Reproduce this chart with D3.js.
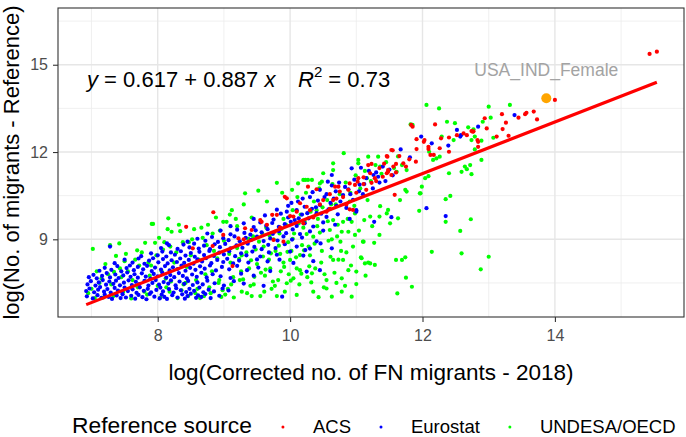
<!DOCTYPE html>
<html>
<head>
<meta charset="utf-8">
<title>Corrected vs reference migrant counts</title>
<style>
  body { margin: 0; background: #fff; }
  text { font-family: "Liberation Sans", Arial, sans-serif; }
</style>
</head>
<body>
<script src="https://d3js.org/d3.v7.min.js"></script>
<script>
// values, [log corrected, log reference]
var acsPoints = [
  [8.43,9.43],[8.53,8.69],[8.83,8.77],[8.84,9.93],[8.99,9.15],[9.13,8.08],[9.22,9.03],[9.3,9.0],[9.32,9.38],[9.42,9.32],
  [9.55,9.66],[9.57,9.6],[9.65,9.5],[9.73,9.84],[9.75,8.98],[9.77,9.26],[9.8,9.84],[9.85,9.4],[9.9,8.92],[9.92,10.46],
  [9.95,10.41],[10.0,9.8],[10.05,9.78],[10.1,9.95],[10.15,10.24],[10.2,9.55],[10.25,10.12],[10.27,10.81],[10.3,10.0],[10.35,9.75],
  [10.4,10.72],[10.45,10.2],[10.5,10.35],[10.55,9.95],[10.6,10.55],[10.6,10.05],[10.65,10.35],[10.68,10.81],[10.7,10.4],[10.73,10.81],
  [10.75,10.64],[10.8,10.45],[10.85,10.2],[10.88,10.7],[10.9,10.92],[10.9,10.03],[10.95,10.01],[10.98,10.87],[11.0,10.6],[11.02,10.98],
  [11.03,11.1],[11.11,11.13],[11.11,10.9],[11.15,10.7],[11.18,11.55],[11.21,11.27],[11.23,11.59],[11.23,10.94],[11.28,11.1],[11.3,11.0],
  [11.35,11.45],[11.4,11.15],[11.42,11.6],[11.46,11.27],[11.46,11.86],[11.47,11.84],[11.48,11.32],[11.48,11.38],[11.53,11.21],[11.53,12.07],
  [11.55,12.06],[11.56,11.5],[11.58,10.53],[11.6,11.59],[11.6,11.3],[11.65,11.86],[11.71,11.61],[11.75,11.5],[11.8,11.75],[11.83,12.93],
  [11.85,12.87],[11.9,11.67],[11.91,12.44],[11.91,12.1],[12.02,12.35],[12.03,12.41],[12.09,12.18],[12.09,12.1],[12.12,11.9],[12.17,11.9],
  [12.19,12.95],[12.26,12.13],[12.28,12.47],[12.4,12.5],[12.4,12.01],[12.52,12.58],[12.62,12.64],[12.67,12.58],[12.74,12.72],[12.76,12.7],
  [12.77,12.71],[12.83,12.41],[12.84,12.35],[12.84,12.18],[12.94,13.16],[12.97,12.81],[13.12,12.53],[13.2,13.3],[13.21,12.79],[13.26,13.01],
  [13.3,12.56],[13.45,13.18],[13.55,13.3],[13.57,13.35],[13.68,13.39],[13.73,13.12],[14.0,13.79],[15.43,15.37],[15.54,15.45]
];

var eurostatPoints = [
  [6.93,7.04],[7.02,6.97],[7.09,7.08],[7.15,6.99],[7.2,7.1],[7.26,7.02],[7.31,6.95],[7.38,7.07],[7.44,6.98],[7.47,7.11],
  [7.52,7.0],[7.6,7.06],[7.66,6.96],[7.71,7.09],[7.77,7.01],[7.83,6.94],[7.88,7.12],[7.95,7.03],[8.03,6.97],[8.06,7.1],
  [8.1,7.02],[8.14,6.95],[8.22,7.08],[8.3,7.0],[8.37,7.11],[8.41,6.96],[8.45,7.05],[8.5,7.13],[8.58,6.99],[8.61,7.07],
  [8.66,7.02],[8.72,7.12],[8.8,6.98],[8.93,7.06],
  [6.92,7.22],[6.97,7.31],[7.04,7.18],[7.1,7.27],[7.13,7.36],[7.19,7.2],[7.24,7.29],[7.29,7.17],[7.35,7.33],[7.4,7.24],
  [7.46,7.19],[7.5,7.34],[7.55,7.22],[7.62,7.28],[7.68,7.16],[7.73,7.35],[7.79,7.23],[7.85,7.3],[7.9,7.18],[7.98,7.26],
  [8.04,7.34],[8.08,7.21],[8.17,7.29],[8.24,7.17],[8.28,7.32],[8.35,7.25],[8.43,7.19],[8.48,7.3],[8.55,7.23],[8.63,7.34],
  [8.69,7.18],[8.77,7.27],[8.85,7.21],[8.98,7.31],[9.07,7.24],
  [6.94,7.45],[6.99,7.56],[7.06,7.41],[7.11,7.52],[7.17,7.6],[7.22,7.44],[7.27,7.55],[7.33,7.47],[7.37,7.58],[7.43,7.42],
  [7.49,7.51],[7.56,7.59],[7.61,7.43],[7.67,7.54],[7.72,7.46],[7.8,7.57],[7.86,7.41],[7.92,7.5],[7.97,7.6],[8.02,7.44],
  [8.09,7.53],[8.16,7.48],[8.2,7.59],[8.27,7.42],[8.33,7.55],[8.4,7.47],[8.46,7.57],[8.53,7.43],[8.6,7.52],[8.68,7.45],
  [8.75,7.58],[8.86,7.49],[9.0,7.41],[9.15,7.56],[9.3,7.48],
  [6.96,7.7],[7.03,7.78],[7.08,7.66],[7.16,7.74],[7.23,7.84],[7.28,7.69],[7.36,7.79],[7.41,7.67],[7.48,7.76],[7.54,7.86],
  [7.59,7.71],[7.65,7.8],[7.7,7.68],[7.76,7.83],[7.82,7.72],[7.89,7.65],[7.94,7.81],[8.0,7.73],[8.07,7.85],[8.13,7.68],
  [8.19,7.77],[8.25,7.7],[8.32,7.84],[8.38,7.74],[8.44,7.66],[8.52,7.79],[8.59,7.71],[8.66,7.85],[8.74,7.69],[8.83,7.8],
  [8.95,7.73],[9.1,7.67],[9.26,7.82],[9.45,7.75],
  [7.12,7.92],[7.2,8.02],[7.3,7.95],[7.39,8.08],[7.45,7.9],[7.53,8.01],[7.58,8.1],[7.64,7.94],[7.7,8.05],[7.78,7.97],
  [7.84,8.09],[7.91,7.91],[7.96,8.03],[8.05,7.96],[8.11,8.08],[8.18,7.93],[8.23,8.04],[8.3,7.98],[8.36,8.1],[8.42,7.92],
  [8.49,8.02],[8.57,7.95],[8.64,8.07],[8.71,7.99],[8.79,8.1],[8.88,7.93],[8.97,8.05],[9.08,7.97],[9.2,8.09],[9.35,7.94],
  [9.52,8.03],[9.7,7.91],
  [7.35,8.18],[7.5,8.3],[7.62,8.2],[7.71,8.34],[7.8,8.16],[7.87,8.27],[7.93,8.35],[8.01,8.21],[8.08,8.32],[8.15,8.17],
  [8.21,8.28],[8.29,8.22],[8.34,8.34],[8.4,8.19],[8.47,8.29],[8.54,8.16],[8.6,8.31],[8.67,8.24],[8.73,8.35],[8.81,8.18],
  [8.9,8.29],[8.99,8.22],[9.05,8.33],[9.14,8.17],[9.23,8.27],[9.37,8.2],[9.5,8.31],[9.66,8.24],[9.84,8.3],[10.05,8.19],
  [7.75,8.42],[7.9,8.52],[8.0,8.45],[8.07,8.58],[8.13,8.41],[8.2,8.55],[8.26,8.47],[8.35,8.59],[8.42,8.44],[8.5,8.53],
  [8.56,8.4],[8.63,8.57],[8.7,8.46],[8.78,8.6],[8.85,8.43],[8.93,8.54],[9.0,8.48],[9.08,8.59],[9.17,8.42],[9.26,8.52],
  [9.34,8.45],[9.43,8.58],[9.55,8.41],[9.68,8.55],[9.8,8.47],[10.0,8.58],[10.2,8.44],
  [8.05,8.7],[8.17,8.8],[8.3,8.67],[8.39,8.82],[8.48,8.72],[8.55,8.85],[8.62,8.68],[8.7,8.78],[8.79,8.66],[8.86,8.83],
  [8.94,8.73],[9.02,8.84],[9.1,8.69],[9.19,8.79],[9.28,8.71],[9.36,8.85],[9.46,8.74],[9.57,8.66],[9.67,8.81],[9.78,8.7],
  [9.92,8.83],[10.1,8.75],[10.3,8.68],
  [8.45,8.92],[8.6,9.02],[8.72,8.95],[8.82,9.08],[8.91,8.91],[8.99,9.04],[9.07,8.97],[9.16,9.1],[9.24,8.93],[9.33,9.05],
  [9.41,8.98],[9.5,9.09],[9.6,8.94],[9.7,9.03],[9.81,8.96],[9.9,9.1],[10.03,8.99],[10.18,9.06],[10.4,8.93],
  [8.75,9.2],[8.95,9.3],[9.1,9.17],[9.2,9.33],[9.31,9.22],[9.4,9.16],[9.48,9.31],[9.57,9.24],[9.66,9.35],[9.74,9.19],
  [9.83,9.28],[9.94,9.21],[10.04,9.34],[10.15,9.18],[10.3,9.27],[10.5,9.3],
  [9.1,9.45],[9.3,9.55],[9.45,9.42],[9.55,9.58],[9.64,9.47],[9.73,9.56],[9.83,9.43],[9.92,9.52],[10.01,9.6],[10.1,9.46],
  [10.22,9.55],[10.35,9.44],[10.5,9.58],[10.68,9.5],
  [9.45,9.7],[9.62,9.82],[9.75,9.68],[9.86,9.88],[9.97,9.75],[10.07,9.66],[10.18,9.85],[10.28,9.72],[10.4,9.9],[10.55,9.77],
  [10.72,9.86],[10.9,9.7],
  [9.8,10.02],[9.95,9.95],[9.97,10.15],[10.02,10.25],[10.1,10.0],[10.13,9.72],[10.19,10.4],[10.22,10.12],[10.26,9.9],[10.33,10.05],
  [10.34,10.62],[10.39,10.1],[10.45,10.18],[10.47,9.88],[10.52,10.45],[10.57,10.98],[10.58,10.03],[10.61,10.25],[10.69,10.65],[10.7,10.15],
  [10.76,10.3],[10.83,10.8],[10.85,10.08],[10.91,10.55],[10.97,11.05],[11.0,10.0],[11.04,10.65],[11.12,10.9],[11.19,11.35],[11.25,10.75],
  [11.33,11.15],[11.44,11.0],[11.5,11.4],
  [10.12,10.3],[10.3,10.45],[10.42,10.33],[10.55,10.55],[10.66,10.4],[10.8,10.52],[10.95,10.36],[11.1,10.55],
  [10.45,10.7],[10.63,10.85],[10.74,10.95],[10.88,10.72],[10.93,11.44],[11.05,10.88],[11.07,11.46],[11.15,11.1],[11.26,11.21],[11.35,10.95],
  [11.4,11.5],[11.55,11.2],[10.63,11.21],[11.3,11.3],
  [9.88,7.03],[10.23,8.63],[10.25,7.89],[10.35,8.25],[10.46,8.86],[10.45,7.94],[10.63,8.69],[11.27,9.6],[11.53,9.76],[12.35,9.8],
  [7.28,8.75],[8.14,8.86],[11.0,9.95],[9.6,7.4],[12.06,10.07],
  [11.67,12.09],[11.81,11.82],[11.98,12.53],[12.14,12.3],[12.39,12.22],[12.52,12.76],[12.57,12.53],[12.58,12.58],[12.84,12.87],[13.39,13.27]
];

var undesaPoints = [
  [6.95,7.15],[7.0,7.3],[7.02,8.67],[7.05,6.98],[7.08,7.9],[7.12,7.5],[7.15,7.65],[7.18,7.0],[7.21,8.15],[7.25,7.8],
  [7.28,8.8],[7.3,7.45],[7.33,7.05],[7.34,7.88],[7.37,8.43],[7.42,8.86],[7.43,8.0],[7.45,7.7],[7.48,7.2],[7.5,8.25],
  [7.52,8.5],[7.55,7.9],[7.6,6.97],[7.62,7.6],[7.66,8.3],[7.69,8.62],[7.7,7.35],[7.72,8.1],[7.76,8.55],[7.8,7.2],
  [7.81,8.88],[7.84,7.1],[7.86,8.2],[7.88,7.75],[7.9,8.1],[7.91,9.53],[7.93,9.53],[7.96,8.88],[7.98,8.45],[8.0,7.4],
  [8.02,9.05],[8.04,7.0],[8.06,7.9],[8.08,8.65],[8.1,8.9],[8.12,7.65],[8.13,7.35],[8.15,9.35],[8.16,9.72],[8.18,7.2],
  [8.19,8.75],[8.2,7.55],[8.21,9.26],[8.25,8.2],[8.28,8.55],[8.3,6.98],[8.32,9.5],[8.34,9.28],[8.36,7.25],[8.38,8.9],
  [8.39,7.45],[8.42,7.5],[8.44,8.05],[8.46,7.05],[8.47,8.9],[8.5,8.45],[8.52,9.0],[8.55,9.35],[8.57,7.15],[8.58,7.6],
  [8.6,7.3],[8.62,8.3],[8.64,6.98],[8.66,9.4],[8.68,9.05],[8.7,7.05],[8.72,7.8],[8.74,8.8],[8.76,9.5],[8.78,7.35],
  [8.8,7.15],[8.82,7.9],[8.83,9.2],[8.85,8.6],[8.88,9.75],[8.9,8.35],[8.92,7.5],[8.93,7.6],[8.94,9.3],[8.96,7.02],
  [8.98,7.25],[8.99,9.6],[9.0,8.95],[9.02,7.1],[9.04,9.6],[9.06,7.3],[9.08,8.5],[9.09,9.85],[9.1,8.2],[9.11,7.45],
  [9.12,10.0],[9.14,7.7],[9.15,7.0],[9.18,9.7],[9.2,9.45],[9.2,8.7],[9.23,8.33],[9.24,7.6],[9.26,7.9],[9.27,7.2],
  [9.27,8.45],[9.29,7.62],[9.3,10.2],[9.32,10.58],[9.34,8.55],[9.35,7.15],[9.37,9.02],[9.38,8.0],[9.4,7.4],[9.41,8.28],
  [9.42,9.75],[9.42,7.05],[9.44,9.1],[9.45,7.45],[9.46,7.71],[9.48,8.65],[9.5,8.15],[9.52,10.67],[9.53,8.92],[9.55,7.05],
  [9.56,7.85],[9.58,9.2],[9.59,8.41],[9.6,8.75],[9.61,7.2],[9.62,7.75],[9.63,7.96],[9.64,9.4],[9.65,10.3],[9.68,8.3],
  [9.69,9.13],[9.7,8.0],[9.71,8.52],[9.72,7.3],[9.74,7.55],[9.75,9.0],[9.77,7.4],[9.78,8.6],[9.8,10.94],[9.8,7.05],
  [9.82,7.6],[9.83,8.78],[9.84,9.2],[9.85,8.5],[9.86,7.9],[9.87,9.36],[9.88,10.6],[9.9,8.2],[9.9,9.7],[9.91,8.05],
  [9.92,7.2],[9.94,9.5],[9.95,7.49],[9.96,8.57],[9.97,8.9],[9.98,7.8],[10.0,8.29],[10.01,7.58],[10.02,8.6],[10.03,10.7],
  [10.04,9.02],[10.04,10.0],[10.05,7.66],[10.06,9.2],[10.09,8.38],[10.1,7.09],[10.1,8.0],[10.11,10.45],[10.12,10.92],[10.13,9.55],
  [10.14,7.45],[10.15,7.94],[10.15,8.46],[10.16,9.85],[10.17,7.82],[10.18,8.8],[10.2,9.4],[10.2,11.04],[10.21,8.62],[10.22,9.6],
  [10.23,11.04],[10.24,10.6],[10.25,9.18],[10.26,7.7],[10.27,11.04],[10.28,8.75],[10.29,8.07],[10.3,8.45],[10.31,9.95],[10.32,7.52],
  [10.33,7.83],[10.33,11.04],[10.35,7.2],[10.35,9.09],[10.36,10.3],[10.37,8.85],[10.38,8.0],[10.4,10.0],[10.41,9.45],[10.42,9.7],
  [10.43,7.01],[10.44,10.75],[10.45,9.23],[10.45,10.92],[10.47,8.2],[10.48,10.98],[10.48,8.6],[10.49,10.1],[10.5,11.27],[10.51,7.35],
  [10.52,7.8],[10.55,7.31],[10.55,7.6],[10.56,10.35],[10.57,9.62],[10.58,8.95],[10.6,9.32],[10.61,8.4],[10.62,10.2],[10.63,9.0],
  [10.63,7.03],[10.64,10.9],[10.65,8.29],[10.65,9.66],[10.65,11.38],[10.65,11.61],[10.67,7.85],[10.69,10.2],[10.7,7.5],[10.71,9.1],
  [10.72,9.5],[10.73,8.3],[10.75,10.55],[10.76,8.92],[10.77,8.6],[10.78,7.2],[10.78,7.66],[10.78,9.26],[10.8,8.29],[10.8,9.6],
  [10.81,11.96],[10.83,7.4],[10.84,10.95],[10.85,8.55],[10.87,9.7],[10.88,7.94],[10.88,9.26],[10.9,10.3],[10.91,10.6],[10.92,8.1],
  [10.93,7.03],[10.93,9.6],[10.95,8.75],[10.97,10.15],[10.98,9.15],[10.98,9.89],[10.99,11.2],[11.0,7.46],[11.0,7.89],[11.03,11.61],
  [11.03,11.73],[11.04,9.3],[11.06,10.75],[11.07,8.38],[11.08,8.35],[11.1,8.92],[11.11,8.92],[11.12,9.66],[11.13,8.17],[11.13,11.35],
  [11.14,7.75],[11.16,11.1],[11.17,10.35],[11.18,8.2],[11.18,11.84],[11.21,8.17],[11.21,9.78],[11.22,11.0],[11.24,9.45],[11.27,8.88],
  [11.28,8.12],[11.29,11.55],[11.33,11.84],[11.35,9.15],[11.35,9.78],[11.36,10.14],[11.36,11.5],[11.38,11.25],[11.45,11.65],[11.46,9.89],
  [11.48,10.01],[11.51,9.55],[11.57,11.45],[11.6,8.29],[11.61,11.32],[11.62,7.14],[11.63,9.72],[11.63,11.85],[11.66,10.35],[11.69,8.29],
  [11.69,11.55],[11.74,8.38],[11.74,10.7],[11.75,7.68],[11.76,10.64],[11.76,11.38],[11.82,12.95],[11.84,7.37],[11.85,12.93],[11.95,9.98],
  [11.96,10.58],[11.97,10.58],[11.99,10.81],[12.04,11.1],[12.06,13.62],[12.09,11.17],[12.1,12.01],[12.14,8.57],[12.16,11.73],[12.21,11.78],
  [12.25,13.5],[12.26,11.84],[12.29,12.53],[12.35,9.6],[12.35,10.38],[12.37,13.04],[12.4,11.27],[12.42,10.49],[12.47,12.41],[12.49,12.99],
  [12.57,9.29],[12.59,8.52],[12.59,11.32],[12.64,11.5],[12.67,11.41],[12.69,12.85],[12.72,11.55],[12.73,9.69],[12.74,11.24],[12.74,12.41],
  [12.77,12.78],[12.79,12.09],[12.79,12.53],[12.88,7.97],[12.89,11.73],[12.89,12.39],[12.91,13.04],[13.0,8.4],[13.0,13.56],[13.03,13.18],
  [13.07,12.49],[13.32,13.62]
];

var highlightPoint = [13.87, 13.85];
var highlightLabel = "USA_IND_Female";

var fitIntercept = 0.617, fitSlope = 0.887, fitR2 = 0.73;

var xTicks = [8, 10, 12, 14], xMinor = [7, 9, 11, 13, 15];
var yTicks = [9, 12, 15], yMinor = [7.5, 10.5, 13.5, 16.5];

var seriesNames = ["ACS", "Eurostat", "UNDESA/OECD"];
var seriesColors = ["#ff0000", "#0000ff", "#00ff00"];

var W = 686, H = 437;
var margin = {top: 8, right: 2, bottom: 120, left: 58},
    width  = W - margin.left - margin.right,
    height = H - margin.top - margin.bottom;

var svg = d3.select("body").append("svg")
    .attr("width", W)
    .attr("height", H);

var chart = svg.append("g")
    .attr("transform", "translate(" + margin.left + "," + margin.top + ")");

var x = d3.scaleLinear().domain([6.494, 15.95]).range([0, width]);
var y = d3.scaleLinear().domain([6.33, 16.95]).range([height, 0]);

// grid
chart.selectAll(".xminor").data(xMinor).enter().append("line")
    .attr("x1", d => x(d)).attr("x2", d => x(d)).attr("y1", 0).attr("y2", height)
    .attr("stroke", "#ececec").attr("stroke-width", 0.8);
chart.selectAll(".yminor").data(yMinor).enter().append("line")
    .attr("y1", d => y(d)).attr("y2", d => y(d)).attr("x1", 0).attr("x2", width)
    .attr("stroke", "#ececec").attr("stroke-width", 0.8);
chart.selectAll(".xmajor").data(xTicks).enter().append("line")
    .attr("x1", d => x(d)).attr("x2", d => x(d)).attr("y1", 0).attr("y2", height)
    .attr("stroke", "#e6e6e6").attr("stroke-width", 1.4);
chart.selectAll(".ymajor").data(yTicks).enter().append("line")
    .attr("y1", d => y(d)).attr("y2", d => y(d)).attr("x1", 0).attr("x2", width)
    .attr("stroke", "#e6e6e6").attr("stroke-width", 1.4);

// points
var series = [
  {name: seriesNames[0], color: seriesColors[0], pts: acsPoints},
  {name: seriesNames[1], color: seriesColors[1], pts: eurostatPoints},
  {name: seriesNames[2], color: seriesColors[2], pts: undesaPoints}
];
[series[2], series[1], series[0]].forEach(function(s){
  chart.append("g").selectAll("circle")
      .data(s.pts)
      .enter()
      .append("circle")
      .attr("cx", d => x(d[0]))
      .attr("cy", d => y(d[1]))
      .attr("r", 2.1)
      .attr("fill", s.color);
});

// regression line over the data's x range
var allX = acsPoints.concat(eurostatPoints, undesaPoints).map(d => d[0]);
var xr = d3.extent(allX);
chart.append("path")
    .datum(xr)
    .attr("d", d3.line().x(d => x(d)).y(d => y(fitIntercept + fitSlope * d)))
    .attr("stroke", "#ff0000")
    .attr("stroke-width", 3.2)
    .attr("fill", "none");

// highlighted point
chart.append("circle")
    .attr("cx", x(highlightPoint[0]))
    .attr("cy", y(highlightPoint[1]))
    .attr("r", 5)
    .attr("fill", "orange");
chart.append("text")
    .attr("x", x(highlightPoint[0]))
    .attr("y", y(highlightPoint[1]) - 22)
    .attr("text-anchor", "middle")
    .attr("font-size", "17.5px")
    .attr("fill", "#a3a3a3")
    .text(highlightLabel);

// equation
var eq = svg.append("text")
    .attr("x", 87)
    .attr("y", 87)
    .attr("font-size", "22px")
    .attr("fill", "#000");
eq.append("tspan").attr("font-style", "italic").text("y");
eq.append("tspan").text(" = " + fitIntercept.toFixed(3) + " + " + fitSlope.toFixed(3) + " ");
eq.append("tspan").attr("font-style", "italic").text("x");
eq.append("tspan").attr("x", 298).attr("font-style", "italic").text("R");
eq.append("tspan").attr("dy", -10).attr("font-size", "15px").text("2");
eq.append("tspan").attr("dy", 10).text(" = " + fitR2.toFixed(2));

// panel border
chart.append("rect")
    .attr("width", width).attr("height", height)
    .attr("fill", "none").attr("stroke", "#333").attr("stroke-width", 1.1);

// axes
var xAxis = chart.append("g")
    .attr("transform", "translate(0," + height + ")")
    .call(d3.axisBottom(x).tickValues(xTicks).tickSize(5).tickPadding(8));
var yAxis = chart.append("g")
    .call(d3.axisLeft(y).tickValues(yTicks).tickSize(5).tickPadding(5));
[xAxis, yAxis].forEach(function(a){
  a.select(".domain").remove();
  a.selectAll("line").attr("stroke", "#333").attr("stroke-width", 1.1);
  a.selectAll("text").attr("fill", "#4d4d4d").attr("font-size", "16px")
      .attr("font-family", "Liberation Sans, Arial, sans-serif");
});

// axis titles
svg.append("text")
    .attr("x", margin.left + width / 2)
    .attr("y", 380)
    .attr("text-anchor", "middle")
    .attr("font-size", "22.5px")
    .text("log(Corrected no. of FN migrants - 2018)");
svg.append("text")
    .attr("transform", "translate(19," + (margin.top + height / 2) + ") rotate(-90)")
    .attr("text-anchor", "middle")
    .attr("font-size", "22px")
    .text("log(No. of migrants - Reference)");

// legend
var legend = svg.append("g").attr("transform", "translate(0,433)");
var lt = legend.append("text")
    .attr("x", 72).attr("y", 0)
    .attr("font-size", "22.8px")
    .text("Reference source");
var cx = 72 + lt.node().getComputedTextLength() + 31;
series.forEach(function(s){
  legend.append("circle").attr("cx", cx).attr("cy", -6).attr("r", 1.5).attr("fill", s.color);
  var t = legend.append("text").attr("x", cx + 30).attr("y", 0).attr("font-size", "18.5px").text(s.name);
  cx = cx + 30 + t.node().getComputedTextLength() + 30;
});
</script>
</body>
</html>
